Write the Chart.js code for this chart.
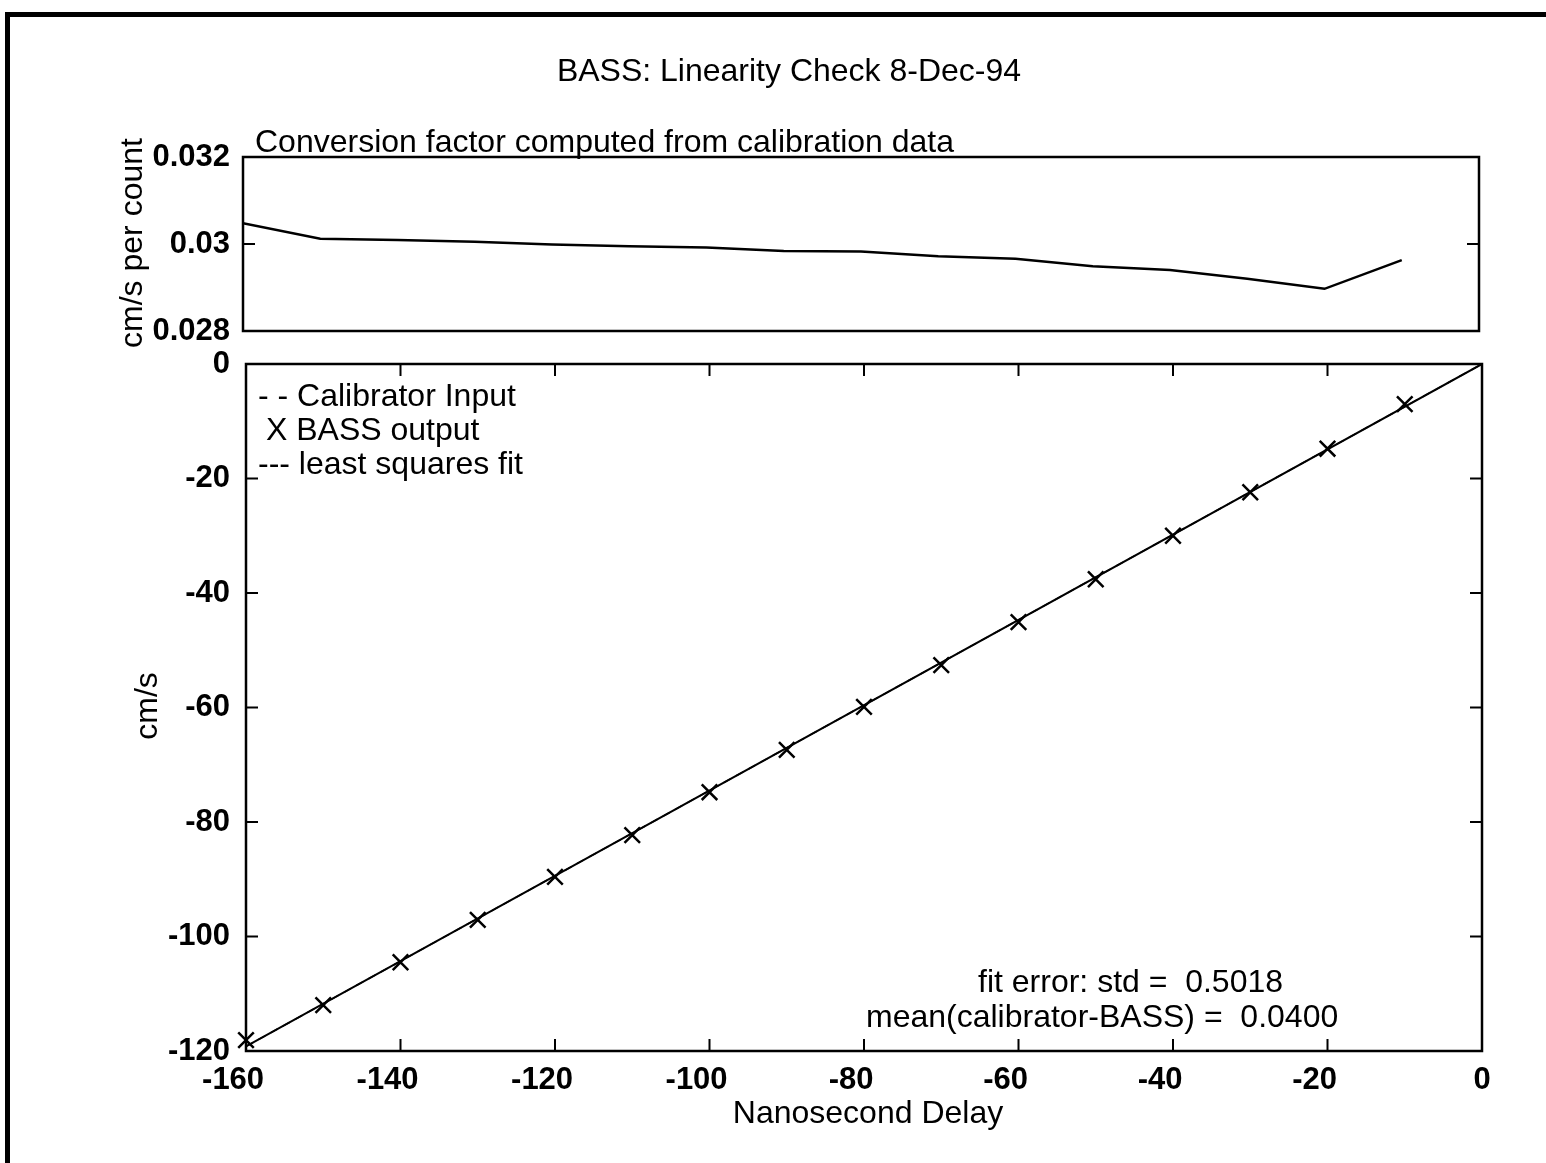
<!DOCTYPE html>
<html>
<head>
<meta charset="utf-8">
<title>BASS: Linearity Check 8-Dec-94</title>
<script src="https://cdn.jsdelivr.net/npm/chart.js@4.4.1/dist/chart.umd.min.js"></script>
<style>
  body { margin: 0; background: #fff; }
  #page { position: relative; width: 1546px; height: 1163px; overflow: hidden; }
  #page canvas { position: absolute; left: 0; top: 0; }
  /* scanned page frame: heavy rule on top and left only */
  #frame { position: absolute; left: 5px; top: 12px; width: 1541px; height: 1151px;
           border-top: 5px solid #000; border-left: 5px solid #000; box-sizing: border-box; }
</style>
</head>
<body>
<div id="page">
  <div id="frame"></div>
  <canvas id="topChart" width="1546" height="1163"></canvas>
  <canvas id="mainChart" width="1546" height="1163"></canvas>
</div>
<script>
// delay settings used for the calibration run (ns)
const delay = [-160, -150, -140, -130, -120, -110, -100, -90, -80, -70, -60, -50, -40, -30, -20, -10];

// conversion factor per delay step (cm/s per count)
const convFactor = [0.03048, 0.03012, 0.03009, 0.03005, 0.02999, 0.02995, 0.02992, 0.02984,
                    0.02983, 0.02972, 0.02966, 0.02949, 0.02940, 0.02920, 0.02897, 0.02963];

// BASS output (cm/s)
const bassOut = [-118.1, -112.0, -104.5, -97.1, -89.6, -82.3, -74.8, -67.4,
                 -59.9, -52.6, -45.1, -37.6, -30.0, -22.4, -14.8, -7.0];

// calibrator input and least squares fit, end points
const calibDelay = [-160, 0];
const calibSpeed = [-119.2, 0];
const fitDelay = [-160, 0];
const fitSpeed = [-119.2, 0];

// tick values
const topYTicks = [0.028, 0.03, 0.032];
const mainXTicks = [-160, -140, -120, -100, -80, -60, -40, -20, 0];
const mainYTicks = [-120, -100, -80, -60, -40, -20, 0];

const FONT = '"Liberation Sans", Arial, Helvetica, sans-serif';
const tickFont = { family: FONT, size: 31, weight: 'bold' };

const pts = (xs, ys) => xs.map((x, i) => ({ x: x, y: ys[i] }));

// draws the boxed axes with inward ticks (matlab style) plus free text
const boxAxes = {
  id: 'boxAxes',
  afterDraw(chart, args, opts) {
    const { ctx, chartArea: a, scales } = chart;
    const len = 12;
    ctx.save();
    ctx.strokeStyle = '#000';
    ctx.lineWidth = 2.5;
    ctx.strokeRect(a.left, a.top, a.width, a.height);
    ctx.lineWidth = 2;
    ctx.beginPath();
    (opts.xTicks || []).forEach(v => {
      const px = scales.x.getPixelForValue(v);
      if (px <= a.left + 1 || px >= a.right - 1) return;
      ctx.moveTo(px, a.bottom); ctx.lineTo(px, a.bottom - len);
      ctx.moveTo(px, a.top); ctx.lineTo(px, a.top + len);
    });
    (opts.yTicks || []).forEach(v => {
      const py = scales.y.getPixelForValue(v);
      if (py <= a.top + 1 || py >= a.bottom - 1) return;
      ctx.moveTo(a.left, py); ctx.lineTo(a.left + len, py);
      ctx.moveTo(a.right, py); ctx.lineTo(a.right - len, py);
    });
    ctx.stroke();

    ctx.fillStyle = '#000';
    ctx.textBaseline = 'middle';
    (opts.texts || []).forEach(t => {
      ctx.save();
      ctx.font = (t.weight || 'normal') + ' ' + (t.size || 32) + 'px ' + FONT;
      ctx.textAlign = t.align || 'left';
      ctx.translate(t.x, t.y);
      if (t.rotate) ctx.rotate(t.rotate);
      ctx.fillText(t.text, 0, 0);
      ctx.restore();
    });
    ctx.restore();
  }
};

// upper panel: conversion factor
new Chart(document.getElementById('topChart'), {
  type: 'scatter',
  data: {
    datasets: [{
      data: pts(delay, convFactor),
      showLine: true,
      borderColor: '#000',
      borderWidth: 2.5,
      pointRadius: 0,
      tension: 0
    }]
  },
  options: {
    responsive: false,
    animation: false,
    events: [],
    layout: { padding: { left: 0, top: 157, right: 67, bottom: 832 } },
    plugins: {
      legend: { display: false },
      tooltip: { enabled: false },
      boxAxes: {
        yTicks: topYTicks,
        texts: [
          { text: 'BASS: Linearity Check 8-Dec-94', x: 789, y: 72, align: 'center' },
          { text: 'Conversion factor computed from calibration data', x: 255, y: 143 },
          { text: 'cm/s per count', x: 133, y: 243, align: 'center', rotate: -Math.PI / 2 }
        ]
      }
    },
    scales: {
      x: { type: 'linear', min: -160, max: 0, display: false },
      y: {
        min: 0.028, max: 0.032,
        afterBuildTicks: s => { s.ticks = topYTicks.map(v => ({ value: v })); },
        afterFit: s => { s.width = 243; },
        grid: { display: false, drawTicks: false },
        border: { display: false },
        ticks: { font: tickFont, color: '#000', padding: 13, callback: v => String(v) }
      }
    }
  },
  plugins: [boxAxes]
});

// lower panel: calibrator vs BASS output
new Chart(document.getElementById('mainChart'), {
  type: 'scatter',
  data: {
    datasets: [
      {
        label: 'Calibrator Input',
        data: pts(calibDelay, calibSpeed),
        showLine: true,
        borderColor: '#000',
        borderWidth: 1.5,
        borderDash: [8, 6],
        pointRadius: 0
      },
      {
        label: 'least squares fit',
        data: pts(fitDelay, fitSpeed),
        showLine: true,
        borderColor: '#000',
        borderWidth: 2,
        pointRadius: 0
      },
      {
        label: 'BASS output',
        data: pts(delay, bassOut),
        showLine: false,
        pointStyle: 'crossRot',
        pointRadius: 11,
        pointBorderWidth: 2.5,
        borderColor: '#000',
        backgroundColor: '#000',
        clip: false
      }
    ]
  },
  options: {
    responsive: false,
    animation: false,
    events: [],
    layout: { padding: { left: 0, top: 364, right: 64, bottom: 62 } },
    plugins: {
      legend: { display: false },
      tooltip: { enabled: false },
      boxAxes: {
        xTicks: mainXTicks,
        yTicks: mainYTicks,
        texts: [
          { text: '- - Calibrator Input', x: 258, y: 397 },
          { text: 'X BASS output', x: 266, y: 431 },
          { text: '--- least squares fit', x: 258, y: 465 },
          { text: 'fit error: std =  0.5018', x: 978, y: 983 },
          { text: 'mean(calibrator-BASS) =  0.0400', x: 866, y: 1018 },
          { text: 'Nanosecond Delay', x: 868, y: 1114, align: 'center' },
          { text: 'cm/s', x: 148, y: 706, align: 'center', rotate: -Math.PI / 2 }
        ]
      }
    },
    scales: {
      x: {
        type: 'linear', min: -160, max: 0,
        afterBuildTicks: s => { s.ticks = mainXTicks.map(v => ({ value: v })); },
        afterFit: s => { s.height = 50; },
        grid: { display: false, drawTicks: false },
        border: { display: false },
        // negative labels sit with their digits centred under the tick
        ticks: { font: tickFont, color: '#000', padding: 11, maxRotation: 0, autoSkip: false,
                 callback: v => v < 0 ? v + '   ' : String(v) }
      },
      y: {
        min: -120, max: 0,
        afterBuildTicks: s => { s.ticks = mainYTicks.map(v => ({ value: v })); },
        afterFit: s => { s.width = 246; },
        grid: { display: false, drawTicks: false },
        border: { display: false },
        ticks: { font: tickFont, color: '#000', padding: 16 }
      }
    }
  },
  plugins: [boxAxes]
});
</script>
</body>
</html>
